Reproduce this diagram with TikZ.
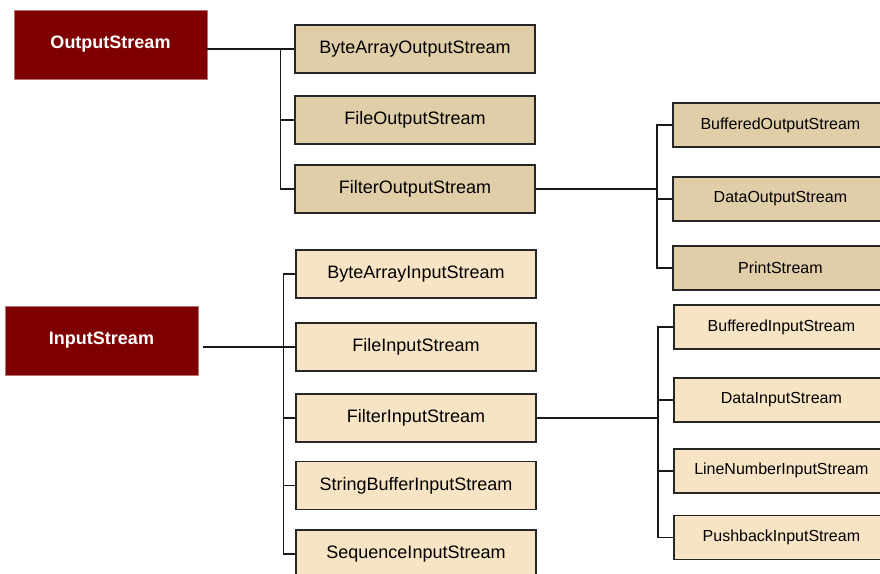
\documentclass[tikz,border=0pt]{standalone}
\usepackage{fontspec}
\setmainfont{Liberation Sans}
\usetikzlibrary{positioning}
\definecolor{rootred}{HTML}{7F0000}
\definecolor{outtan}{HTML}{E0CEA9}
\definecolor{intan}{HTML}{F7E4C4}

\begin{document}
\begin{tikzpicture}[x=1pt,y=-1pt,font=\fontsize{18}{20}\selectfont,
	every node/.style={inner sep=0pt},
	root/.style={fill=rootred,draw=rootred!55,line width=0.8pt,text=white,
		font=\fontsize{18}{20}\selectfont\bfseries,minimum width=193pt,minimum height=69pt},
	cls/.style={draw=black!85,line width=1.8pt,minimum width=240pt,minimum height=48pt},
	sub/.style={cls,minimum width=215pt,minimum height=44pt,font=\fontsize{16}{18}\selectfont},
	link/.style={line width=1.8pt,black!90}]
	\useasboundingbox (0,0) rectangle (880,573);
	\clip (0,0) rectangle (880,573);
	\node[root] (os) at (110.5,44.5) {OutputStream};
	\node[cls,fill=outtan] (baos) at (415,49) {ByteArrayOutputStream};
	\node[cls,fill=outtan,below=21pt of baos] (fos) {FileOutputStream};
	\node[cls,fill=outtan,below=19pt of fos] (filos) {FilterOutputStream};
	\node[sub,fill=outtan,anchor=west] (bos) at (672,125) {BufferedOutputStream};
	\node[sub,fill=outtan,below=28pt of bos] (dos) {DataOutputStream};
	\node[sub,fill=outtan,below=23pt of dos] (ps) {PrintStream};
	\node[root] (is) at (101.5,340.5) {InputStream};
	\node[cls,fill=intan] (bais) at (416,274) {ByteArrayInputStream};
	\node[cls,fill=intan,below=23pt of bais] (fis) {FileInputStream};
	\node[cls,fill=intan,below=21pt of fis] (filis) {FilterInputStream};
	\node[cls,fill=intan,below=18pt of filis] (sbis) {StringBufferInputStream};
	\node[cls,fill=intan,below=19pt of sbis] (seqis) {SequenceInputStream};
	\node[sub,fill=intan,anchor=west] (bis) at (673,327) {BufferedInputStream};
	\node[sub,fill=intan,below=27pt of bis] (dis) {DataInputStream};
	\node[sub,fill=intan,below=25pt of dis] (lnis) {LineNumberInputStream};
	\node[sub,fill=intan,below=21pt of lnis] (pbis) {PushbackInputStream};
	\coordinate (oj) at ([xshift=73pt]os.east |- baos);
	\coordinate (fj) at ([xshift=121pt]filos.east);
	\coordinate (ij) at ([xshift=85pt]is.east |- fis);
	\coordinate (fij) at ([xshift=121pt]filis.east);
	\draw[link] (os.east |- baos) -- (baos.west);
	\draw[link] (oj) |- (filos.west);
	\draw[link] (oj |- fos) -- (fos.west);
	\draw[link] (filos.east) -- (fj);
	\draw[link] (bos.west) -| (fj |- ps) -- (ps.west);
	\draw[link] (fj |- dos) -- (dos.west);
	\draw[link] ([xshift=5pt]is.east |- fis) -- (fis.west);
	\draw[link] (bais.west) -| (ij |- seqis) -- (seqis.west);
	\draw[link] (ij |- filis) -- (filis.west);
	\draw[link] (ij |- sbis) -- (sbis.west);
	\draw[link] (filis.east) -- (fij);
	\draw[link] (bis.west) -| (fij |- pbis) -- (pbis.west);
	\draw[link] (fij |- dis) -- (dis.west);
	\draw[link] (fij |- lnis) -- (lnis.west);
\end{tikzpicture}
\end{document}
